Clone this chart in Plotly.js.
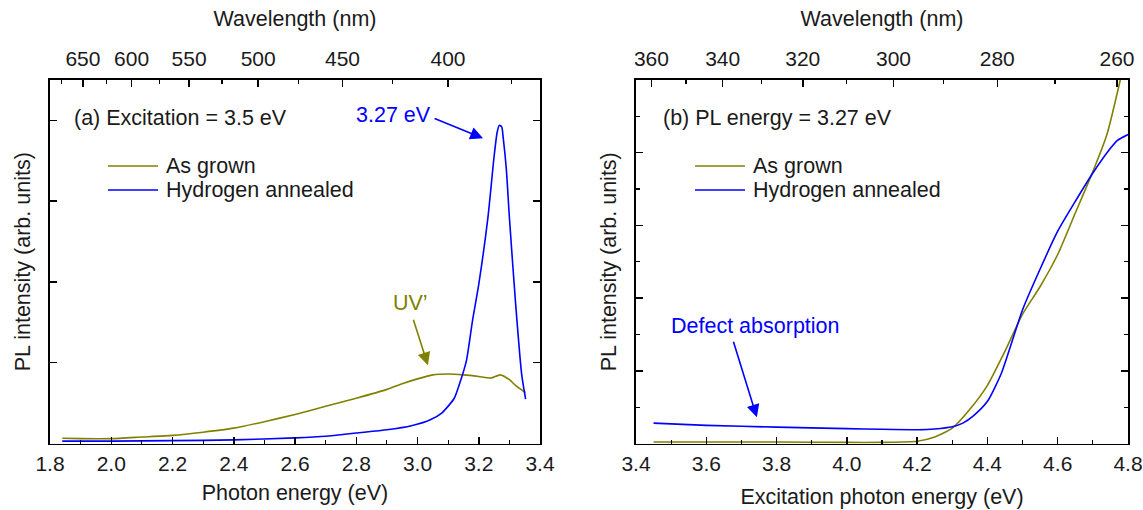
<!DOCTYPE html>
<html><head><meta charset="utf-8">
<script src="https://cdn.plot.ly/plotly-3.0.1.min.js"></script>
<style>html,body{margin:0;padding:0;background:#fff}</style>
</head><body><div id="chart" style="width:1143px;height:510px"></div>
<script>
// ---- Panel (a): PL spectra, excitation 3.5 eV ----
const plAsGrownEnergy = [1.84, 1.9, 2.0, 2.1, 2.2, 2.3, 2.4, 2.5, 2.6, 2.7, 2.8, 2.9, 2.95, 3.0, 3.05, 3.1, 3.15, 3.2, 3.24, 3.27, 3.3, 3.32, 3.353];
const plAsGrownValue  = [0.065, 0.06, 0.06, 0.08, 0.10, 0.14, 0.19, 0.27, 0.36, 0.46, 0.56, 0.67, 0.74, 0.80, 0.85, 0.86, 0.85, 0.83, 0.81, 0.85, 0.79, 0.72, 0.63];
const plAnnealedEnergy = [1.84, 1.9, 2.0, 2.2, 2.4, 2.6, 2.7, 2.8, 2.9, 2.98, 3.04, 3.08, 3.12, 3.14, 3.16, 3.18, 3.2, 3.23, 3.25, 3.26, 3.267, 3.275, 3.28, 3.29, 3.3, 3.32, 3.34, 3.353];
const plAnnealedValue  = [0.03, 0.03, 0.03, 0.035, 0.045, 0.07, 0.09, 0.13, 0.17, 0.22, 0.29, 0.38, 0.56, 0.77, 1.03, 1.53, 1.97, 2.8, 3.55, 3.85, 3.94, 3.92, 3.78, 3.4, 2.8, 1.75, 0.86, 0.55];
const topWavelengthA = [650, 600, 550, 500, 450, 400];
const topMinorWavelengthA = [675, 625, 575, 525, 475, 425, 375];

// ---- Panel (b): PLE spectra, PL energy 3.27 eV ----
const pleAsGrownEnergy = [3.45, 3.6, 3.8, 4.0, 4.1, 4.2, 4.25, 4.3, 4.35, 4.4, 4.45, 4.5, 4.55, 4.6, 4.65, 4.7, 4.74, 4.778];
const pleAsGrownValue  = [0.02, 0.02, 0.02, 0.015, 0.015, 0.03, 0.09, 0.21, 0.47, 0.80, 1.27, 1.78, 2.16, 2.6, 3.17, 3.74, 4.25, 5.0];
const pleAnnealedEnergy = [3.45, 3.6, 3.8, 4.0, 4.1, 4.2, 4.25, 4.3, 4.33, 4.36, 4.4, 4.44, 4.5, 4.55, 4.6, 4.65, 4.7, 4.75, 4.77, 4.8];
const pleAnnealedValue  = [0.28, 0.25, 0.225, 0.205, 0.195, 0.19, 0.20, 0.23, 0.28, 0.38, 0.58, 0.97, 1.84, 2.4, 2.92, 3.33, 3.72, 4.06, 4.17, 4.25];
const topWavelengthB = [360, 340, 320, 300, 280, 260];
const topMinorWavelengthB = [350, 330, 310, 290, 270];

const seriesNames = ['As grown', 'Hydrogen annealed'];

const HC = 1239.84; // eV*nm
const toE = w => HC / w;

const OLIVE = '#808000', BLUE = '#0000ff', INK = '#1a1a1a';
const FONT = 'Liberation Sans, Arial, sans-serif';
const FS = 21.5, TFS = 21;
const W = 1143, H = 510;
const px = v => v / W, py = v => (H - v) / H;

const traces = [
  {x: plAsGrownEnergy, y: plAsGrownValue, xaxis: 'x', yaxis: 'y', type: 'scatter', mode: 'lines',
   name: seriesNames[0], line: {color: OLIVE, width: 1.6, shape: 'spline', smoothing: 0.5}, showlegend: false},
  {x: plAnnealedEnergy, y: plAnnealedValue, xaxis: 'x', yaxis: 'y', type: 'scatter', mode: 'lines',
   name: seriesNames[1], line: {color: BLUE, width: 1.6, shape: 'spline', smoothing: 0.6}, showlegend: false},
  {x: pleAsGrownEnergy, y: pleAsGrownValue, xaxis: 'x3', yaxis: 'y3', type: 'scatter', mode: 'lines',
   name: seriesNames[0], line: {color: OLIVE, width: 1.6, shape: 'spline', smoothing: 0.6}, showlegend: false},
  {x: pleAnnealedEnergy, y: pleAnnealedValue, xaxis: 'x3', yaxis: 'y3', type: 'scatter', mode: 'lines',
   name: seriesNames[1], line: {color: BLUE, width: 1.6, shape: 'spline', smoothing: 0.6}, showlegend: false},
  // carriers for the top wavelength axes (no data drawn)
  {x: [], y: [], xaxis: 'x2', yaxis: 'y', type: 'scatter', mode: 'lines', showlegend: false, hoverinfo: 'skip'},
  {x: [], y: [], xaxis: 'x4', yaxis: 'y3', type: 'scatter', mode: 'lines', showlegend: false, hoverinfo: 'skip'}
];

const tf = {family: FONT, size: TFS, color: INK};
const ttl = {family: FONT, size: FS, color: INK};
const axBase = {
  showline: true, linecolor: '#000', linewidth: 1.6, ticks: 'inside', ticklen: 7, tickwidth: 1.5,
  tickcolor: '#000', showgrid: false, zeroline: false, fixedrange: true, tickfont: tf
};
const minorBase = {ticks: 'inside', ticklen: 4, tickwidth: 1.2, tickcolor: '#000'};
const dxL = [50/W, 540/W], dxR = [636/W, 1128/W];
const dy = [(H-443.5)/H, (H-80)/H];

const layout = {
  width: W, height: H,
  margin: {l: 0, r: 0, t: 0, b: 0},
  paper_bgcolor: '#fff', plot_bgcolor: '#fff',
  font: {family: FONT, size: FS, color: INK},
  showlegend: false,
  xaxis: Object.assign({}, axBase, {domain: dxL, anchor: 'y', range: [1.8, 3.4], dtick: 0.2, tick0: 1.8,
    tickformat: '.1f', ticklabelstandoff: 1,
    minor: Object.assign({dtick: 0.1}, minorBase),
    title: {text: 'Photon energy (eV)', font: ttl, standoff: 10}}),
  xaxis2: Object.assign({}, axBase, {domain: dxL, anchor: 'y', overlaying: 'x', side: 'top', range: [1.8, 3.4],
    tickmode: 'array', tickvals: topWavelengthA.map(toE), ticktext: topWavelengthA.map(String), ticklabelstandoff: 4,
    minor: Object.assign({tickmode: 'array', tickvals: topMinorWavelengthA.map(toE)}, minorBase),
    title: {text: 'Wavelength (nm)', font: ttl, standoff: 14}}),
  yaxis: Object.assign({}, axBase, {domain: dy, anchor: 'x', range: [0, 4.5], tickmode: 'array', tickvals: [1, 2, 3, 4],
    showticklabels: false, mirror: 'ticks',
    title: {text: 'PL intensity (arb. units)', font: ttl, standoff: 12}}),
  xaxis3: Object.assign({}, axBase, {domain: dxR, anchor: 'y3', range: [3.4, 4.8], dtick: 0.2, tick0: 3.4,
    tickformat: '.1f', ticklabelstandoff: 1,
    minor: Object.assign({dtick: 0.1}, minorBase),
    title: {text: 'Excitation photon energy (eV)', font: ttl, standoff: 14}}),
  xaxis4: Object.assign({}, axBase, {domain: dxR, anchor: 'y3', overlaying: 'x3', side: 'top', range: [3.4, 4.8],
    tickmode: 'array', tickvals: topWavelengthB.map(toE), ticktext: topWavelengthB.map(String), ticklabelstandoff: 4,
    minor: Object.assign({tickmode: 'array', tickvals: topMinorWavelengthB.map(toE)}, minorBase),
    title: {text: 'Wavelength (nm)', font: ttl, standoff: 14}}),
  yaxis3: Object.assign({}, axBase, {domain: dy, anchor: 'x3', range: [0, 5], dtick: 1, tick0: 0,
    showticklabels: false, mirror: 'ticks',
    minor: Object.assign({dtick: 0.5}, minorBase),
    title: {text: 'PL intensity (arb. units)', font: ttl, standoff: 12}}),
  shapes: [
    // legend keys
    {type: 'line', xref: 'paper', yref: 'paper', x0: px(108), x1: px(158), y0: py(166), y1: py(166), line: {color: OLIVE, width: 1.6}},
    {type: 'line', xref: 'paper', yref: 'paper', x0: px(108), x1: px(158), y0: py(190), y1: py(190), line: {color: BLUE, width: 1.6}},
    {type: 'line', xref: 'paper', yref: 'paper', x0: px(695), x1: px(745), y0: py(166), y1: py(166), line: {color: OLIVE, width: 1.6}},
    {type: 'line', xref: 'paper', yref: 'paper', x0: px(695), x1: px(745), y0: py(190), y1: py(190), line: {color: BLUE, width: 1.6}}
  ],
  annotations: [
    {xref: 'paper', yref: 'paper', x: px(164), y: py(166), xanchor: 'left', yanchor: 'middle', showarrow: false, text: seriesNames[0], font: ttl},
    {xref: 'paper', yref: 'paper', x: px(164), y: py(190), xanchor: 'left', yanchor: 'middle', showarrow: false, text: seriesNames[1], font: ttl},
    {xref: 'paper', yref: 'paper', x: px(751), y: py(166), xanchor: 'left', yanchor: 'middle', showarrow: false, text: seriesNames[0], font: ttl},
    {xref: 'paper', yref: 'paper', x: px(751), y: py(190), xanchor: 'left', yanchor: 'middle', showarrow: false, text: seriesNames[1], font: ttl},
    {xref: 'x', yref: 'y', x: 1.872, y: 4.03, xanchor: 'left', yanchor: 'middle', showarrow: false,
     text: '(a) Excitation = 3.5 eV', font: ttl},
    {xref: 'x', yref: 'y', x: 2.92, y: 4.07, showarrow: false, text: '3.27 eV',
     font: {family: FONT, size: FS, color: BLUE}},
    {xref: 'x', yref: 'y', x: 3.214, y: 3.78, axref: 'x', ayref: 'y', ax: 3.051, ay: 4.03, text: '',
     showarrow: true, arrowhead: 2, arrowsize: 1.6, arrowwidth: 1.6, arrowcolor: BLUE},
    {xref: 'x', yref: 'y', x: 2.976, y: 1.74, showarrow: false, text: 'UV’',
     font: {family: FONT, size: FS, color: OLIVE}},
    {xref: 'x', yref: 'y', x: 3.034, y: 0.97, axref: 'x', ayref: 'y', ax: 2.985, ay: 1.55, text: '',
     showarrow: true, arrowhead: 2, arrowsize: 1.6, arrowwidth: 1.6, arrowcolor: OLIVE},
    {xref: 'x3', yref: 'y3', x: 3.47, y: 4.48, xanchor: 'left', yanchor: 'middle', showarrow: false,
     text: '(b) PL energy = 3.27 eV', font: ttl},
    {xref: 'x3', yref: 'y3', x: 3.741, y: 1.61, showarrow: false, text: 'Defect absorption',
     font: {family: FONT, size: FS, color: BLUE}},
    {xref: 'x3', yref: 'y3', x: 3.744, y: 0.36, axref: 'x3', ayref: 'y3', ax: 3.676, ay: 1.42, text: '',
     showarrow: true, arrowhead: 2, arrowsize: 1.6, arrowwidth: 1.6, arrowcolor: BLUE}
  ]
};

Plotly.newPlot('chart', traces, layout, {displayModeBar: false, staticPlot: true});
</script>
</body></html>
